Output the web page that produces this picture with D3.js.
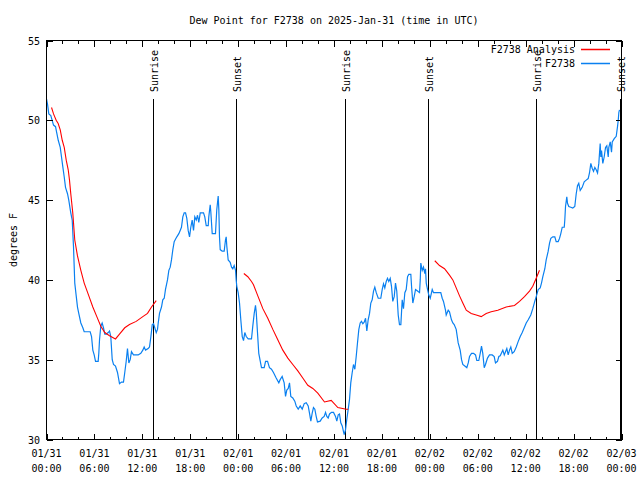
<!DOCTYPE html>
<html>
<head>
<meta charset="utf-8">
<script src="https://cdn.jsdelivr.net/npm/d3@7"></script>
<style>
  html, body { margin: 0; padding: 0; background: #fff; }
  svg { display: block; }
  text { font-family: "DejaVu Sans Mono", "Liberation Mono", monospace; font-size: 10px; fill: #000; }
</style>
</head>
<body>
<svg id="chart" width="640" height="480"></svg>
<script>
// ---------------- data ----------------
const chartTitle = "Dew Point for F2738 on 2025-Jan-31 (time in UTC)";
const yLabel = "degrees F";
const seriesNames = ["F2738 Analysis", "F2738"];
const seriesColors = ["#ff0000", "#0a80f0"];
const startTime = Date.UTC(2025, 0, 31, 0, 0);
const endTime = Date.UTC(2025, 1, 3, 0, 0);
const yTicks = [30, 35, 40, 45, 50, 55];

// hours after 2025-01-31 00:00 UTC
const sunriseHours = [13.3, 37.35, 61.27];
const sunsetHours = [23.7, 47.74, 71.8];

// Analysis (red), three segments separated by null
const anaHours = [
  0.63, 0.88, 1.21, 1.46, 1.72, 1.97, 2.22, 2.47, 2.72, 2.88, 3.04, 3.29, 3.54, 3.88, 4.30, 4.72,
  5.30, 5.80, 6.30, 6.80, 7.30, 7.89, 8.64, 9.14, 9.80, 10.39, 11.23, 12.06, 12.65, 13.15, 13.74,
  null,
  24.71, 25.21, 25.67, 25.92, 26.46, 27.09, 27.71, 28.34, 28.96, 29.59, 30.22, 30.84, 31.47,
  32.09, 32.72, 33.35, 33.97, 34.81, 35.65, 36.48, 37.53, 37.78,
  null,
  48.62, 49.21, 49.84, 50.46, 50.88, 51.30, 51.72, 52.13, 52.56, 53.18, 53.81, 54.43, 55.06,
  55.68, 56.51, 57.56, 58.60, 59.23, 59.85, 60.48, 60.89, 61.32, 61.73
];
const anaValues = [
  50.8, 50.4, 50.0, 49.8, 49.4, 48.75, 48.3, 47.5, 46.9, 46.25, 45.4, 44.2, 42.5, 41.5, 40.6, 39.8,
  39.0, 38.3, 37.7, 37.1, 36.7, 36.5, 36.3, 36.6, 37.0, 37.2, 37.4, 37.7, 37.9, 38.3, 38.7,
  null,
  40.4, 40.2, 39.9, 39.7, 39.0, 38.2, 37.6, 36.9, 36.25, 35.6, 35.1, 34.7, 34.3,
  33.85, 33.4, 33.2, 32.9, 32.35, 32.45, 32.0, 31.9, 31.9,
  null,
  41.2, 40.9, 40.7, 40.3, 40.0, 39.5, 39.0, 38.55, 38.1, 37.9, 37.8, 37.7, 37.9,
  38.0, 38.1, 38.3, 38.4, 38.65, 38.95, 39.3, 39.6, 40.1, 40.6
];

// Observations (blue)
const obsHours = [
  0.00, 0.13, 0.29, 0.54, 0.71, 0.88, 1.13, 1.29, 1.47, 1.72, 1.88, 2.04, 2.22, 2.38, 2.63, 2.79,
  3.04, 3.22, 3.38, 3.47, 3.54, 3.72, 3.88, 4.04, 4.30, 4.55, 4.72, 5.47, 5.64, 5.80, 5.97, 6.14,
  6.47, 6.55, 6.64, 6.80, 6.97, 7.14, 7.30, 7.48, 7.73, 7.89, 8.05, 8.23, 8.39, 8.64, 8.89, 9.14,
  9.39, 9.64, 9.80, 9.98, 10.14, 10.31, 10.48, 10.64, 10.89, 11.48, 11.81, 12.06, 12.23, 12.40,
  12.73, 12.90, 13.06, 13.24, 13.40, 13.56, 13.74, 13.90, 13.99, 14.15, 14.40, 14.56, 14.74, 14.90,
  15.15, 15.32, 15.49, 15.65, 15.82, 15.99, 16.15, 16.32, 16.57, 16.74, 16.90, 17.07, 17.24, 17.41,
  17.57, 17.74, 17.91, 18.07, 18.24, 18.41, 18.57, 18.75, 18.91, 19.07, 19.25, 19.41, 19.66, 19.82,
  20.00, 20.25, 20.32, 20.50, 20.57, 20.75, 21.16, 21.32, 21.50, 21.58, 21.66, 21.75, 22.00, 22.25,
  22.41, 22.50, 22.58, 22.75, 23.00, 23.17, 23.33, 23.50, 23.67, 23.75, 23.83, 24.00, 24.17, 24.33,
  24.51, 24.67, 24.83, 25.01, 25.26, 25.67, 25.83, 26.01, 26.17, 26.26, 26.42, 26.58, 26.92, 27.26,
  27.43, 27.68, 27.92, 28.17, 28.42, 28.76, 29.09, 29.26, 29.51, 29.76, 29.93, 30.09, 30.27, 30.43,
  30.59, 30.84, 31.09, 31.27, 31.52, 31.77, 32.02, 32.27, 32.52, 32.77, 32.93, 33.10, 33.27, 33.43,
  33.60, 33.77, 33.93, 34.27, 34.52, 34.77, 34.94, 35.10, 35.27, 35.44, 35.69, 35.94, 36.19, 36.35,
  36.53, 36.69, 36.85, 37.03, 37.19, 37.28, 37.44, 37.60, 37.78, 37.94, 38.10, 38.28, 38.44, 38.61,
  38.78, 38.94, 39.11, 39.28, 39.44, 39.61, 39.78, 39.95, 40.11, 40.28, 40.45, 40.61, 40.78, 40.95,
  41.11, 41.29, 41.54, 41.86, 42.04, 42.20, 42.36, 42.54, 42.70, 42.86, 43.04, 43.20, 43.36, 43.54,
  43.70, 43.86, 44.04, 44.20, 44.37, 44.54, 44.70, 44.87, 45.04, 45.21, 45.37, 45.62, 45.71, 45.87,
  46.04, 46.21, 46.46, 46.71, 46.80, 46.87, 47.05, 47.21, 47.37, 47.46, 47.55, 47.71, 47.87, 48.05,
  48.21, 48.30, 48.46, 49.37, 49.55, 49.71, 49.96, 50.05, 50.30, 50.46, 50.71, 50.88, 51.05, 51.30,
  51.55, 51.80, 51.97, 52.13, 52.38, 52.63, 52.81, 52.97, 53.22, 53.47, 53.72, 53.88, 54.13, 54.31,
  54.47, 54.63, 54.81, 54.97, 55.22, 55.47, 55.81, 56.06, 56.22, 56.47, 56.64, 56.81, 57.14, 57.32,
  57.48, 57.64, 57.81, 57.98, 58.14, 58.32, 58.56, 58.82, 59.07, 59.32, 59.57, 59.82, 60.07, 60.32,
  60.64, 60.89, 61.14, 61.32, 61.57, 61.82, 61.98, 62.15, 62.40, 62.57, 62.82, 62.99, 63.15, 63.40,
  63.65, 63.82, 64.07, 64.24, 64.40, 64.58, 64.83, 64.90, 64.99, 65.15, 65.24, 65.40, 65.65, 65.90,
  66.15, 66.33, 66.49, 66.65, 66.83, 67.08, 67.33, 67.58, 67.83, 67.99, 68.16, 68.33, 68.50, 68.66,
  68.83, 69.00, 69.16, 69.33, 69.41, 69.50, 69.66, 69.83, 70.00, 70.16, 70.34, 70.41, 70.59, 70.75,
  70.84, 71.09, 71.34, 71.50, 71.59, 71.67, 71.75
];
const obsValues = [
  51.35, 51.0, 50.4, 50.3, 50.0, 49.7, 49.6, 49.2, 48.75, 48.3, 47.7, 47.1, 46.45, 45.8, 45.4, 45.0,
  44.2, 43.75, 42.1, 40.8, 39.8, 39.0, 38.3, 37.9, 37.3, 37.0, 36.75, 36.75, 36.45, 35.6, 35.3, 34.9,
  34.9, 35.4, 36.25, 37.1, 37.3, 37.0, 36.6, 36.6, 36.7, 36.8, 36.45, 35.0, 34.7, 34.6, 34.2, 33.5,
  33.6, 33.6, 34.2, 34.9, 35.7, 34.8, 35.0, 35.5, 35.3, 35.3, 35.4, 35.6, 35.8, 35.6,
  35.7, 35.8, 36.4, 37.2, 37.25, 37.0, 36.7, 36.9, 37.3, 37.9, 38.3, 38.75, 38.85, 39.4,
  40.0, 40.6, 40.8, 41.25, 41.9, 42.4, 42.55, 42.7, 42.9, 43.1, 43.3, 43.95, 44.2, 44.2,
  43.85, 43.1, 42.7, 43.3, 43.75, 43.1, 43.95, 43.75, 44.05, 43.6, 44.2, 44.2, 44.2, 43.95,
  43.4, 43.4, 43.95, 44.7, 44.3, 42.9, 42.9, 44.4, 45.25, 44.4, 42.7, 41.9, 41.8, 41.8,
  42.5, 42.7, 42.1, 41.25, 41.1, 40.8, 40.7, 40.9, 40.6, 40.0, 39.6, 39.2, 38.55, 37.5,
  36.45, 36.2, 36.7, 36.45, 36.3, 36.3, 37.1, 37.9, 38.4, 38.0, 36.7, 35.4, 34.5, 34.5,
  34.9, 34.9, 34.5, 34.4, 34.2, 33.85, 33.55, 33.75, 33.95, 33.55, 32.7, 33.1, 33.2, 33.55,
  32.7, 32.6, 32.4, 32.1, 31.9, 32.1, 31.9, 32.25, 32.3, 32.1, 31.65, 31.15, 31.65, 32.0,
  31.9, 31.45, 31.1, 31.15, 31.35, 31.45, 31.7, 31.45, 31.35, 31.6, 31.7, 31.7, 31.45, 31.15,
  31.55, 31.6, 31.05, 30.85, 30.5, 30.3, 30.6, 31.25, 31.9, 32.5, 33.55, 34.2, 34.7, 34.4,
  35.2, 36.05, 36.9, 37.3, 37.4, 37.25, 37.35, 37.6, 36.8, 37.5, 37.9, 38.55, 38.75, 39.3,
  39.55, 39.2, 38.85, 38.85, 39.4, 39.75, 39.5, 39.9, 40.1, 39.9, 40.1, 39.6, 38.65, 38.95,
  39.8, 39.3, 37.8, 37.2, 37.2, 38.75, 38.2, 39.2, 39.4, 40.2, 40.35, 40.35, 39.6, 38.55,
  38.95, 39.4, 39.3, 39.2, 40.0, 41.05, 40.6, 40.8, 40.4, 40.7, 39.8, 39.4, 39.05, 38.85,
  39.2, 39.4, 39.2, 39.2, 38.85, 38.65, 38.1, 37.8, 38.1, 38.0, 37.5, 37.3, 37.2, 36.9,
  36.05, 35.6, 35.0, 34.7, 34.6, 34.5, 34.8, 35.2, 35.4, 35.4, 35.3, 34.95, 34.95, 35.4,
  35.85, 35.4, 34.5, 34.7, 35.1, 35.3, 35.3, 35.2, 34.8, 34.9, 35.2, 35.25, 35.6, 35.3,
  35.5, 35.7, 35.3, 35.6, 35.8, 35.4, 35.5, 35.8, 36.15, 36.45, 36.7, 37.0, 37.3, 37.5,
  37.8, 38.2, 38.65, 38.95, 39.4, 39.5, 39.8, 40.2, 40.7, 41.25, 41.8, 42.3, 42.6, 42.7,
  42.7, 42.4, 42.4, 42.6, 42.9, 43.3, 43.3, 43.75, 44.6, 45.2, 44.8, 44.6, 44.55, 44.5,
  44.6, 45.4, 45.9, 46.05, 45.6, 45.8, 46.15, 46.25, 46.35, 46.7, 47.3, 47.0, 46.8, 47.05,
  46.9, 46.7, 47.3, 48.55, 47.7, 48.1, 47.3, 47.7, 48.3, 48.4, 47.7, 48.3, 48.65, 48.0,
  48.65, 48.85, 49.0, 49.6, 50.0, 50.5, 50.65
];

// ---------------- drawing ----------------
const HOUR = 3600 * 1000;
const toDate = h => new Date(startTime + h * HOUR);

const svg = d3.select("#chart");
const L = 46.5, R = 621.5, T = 40.5, B = 439.5;

const x = d3.scaleUtc().domain([new Date(startTime), new Date(endTime)]).range([L, R]);
const y = d3.scaleLinear().domain([30, 55]).range([B, T]);

const majorTicks = d3.utcHour.every(6).range(new Date(startTime), new Date(endTime + 1));
const minorTicks = d3.utcHour.every(2).range(new Date(startTime), new Date(endTime + 1));

const red = seriesColors[0];
const blue = seriesColors[1];

// title
svg.append("text").attr("x", (L + R) / 2).attr("y", 23.5)
  .attr("text-anchor", "middle").text(chartTitle);

// y label
svg.append("text").attr("transform", `translate(13.5,${(T + B) / 2}) rotate(-90)`)
  .attr("text-anchor", "middle").attr("dy", "0.35em").text(yLabel);

// clip
svg.append("defs").append("clipPath").attr("id", "plotclip")
  .append("rect").attr("x", L).attr("y", T).attr("width", R - L).attr("height", B - T);

// sunrise / sunset markers
const sunEvents = sunriseHours.map(h => ({ h, label: "Sunrise" }))
  .concat(sunsetHours.map(h => ({ h, label: "Sunset" })));
const sunG = svg.append("g");
sunEvents.forEach(ev => {
  const xp = Math.round(x(toDate(ev.h))) + 0.5;
  sunG.append("line").attr("x1", xp).attr("x2", xp).attr("y1", 98.5).attr("y2", B)
    .attr("stroke", "#000").attr("stroke-width", 1).attr("shape-rendering", "crispEdges");
  sunG.append("text").attr("transform", `translate(${xp + 0.5},92) rotate(-90)`)
    .attr("text-anchor", "start").attr("dy", "0.35em").text(ev.label);
});

// lines
const plotG = svg.append("g").attr("clip-path", "url(#plotclip)");

const anaData = anaHours.map((h, i) => ({ h, v: anaValues[i] }));
const obsData = obsHours.map((h, i) => ({ h, v: obsValues[i] }));

const lineGen = d3.line()
  .defined(d => d.h !== null && d.v !== null)
  .x(d => x(toDate(d.h)))
  .y(d => y(d.v));

plotG.append("path").datum(obsData).attr("d", lineGen)
  .attr("fill", "none").style("stroke", blue).attr("stroke-width", 1.2)
  .attr("stroke-linejoin", "miter");
plotG.append("path").datum(anaData).attr("d", lineGen)
  .attr("fill", "none").style("stroke", red).attr("stroke-width", 1.1);

// border
svg.append("rect").attr("x", L).attr("y", T).attr("width", R - L).attr("height", B - T)
  .attr("fill", "none").attr("stroke", "#000").attr("stroke-width", 1)
  .attr("shape-rendering", "crispEdges");

// ticks using d3 axes (inward)
const fmtDay = d3.utcFormat("%m/%d");
const fmtTime = d3.utcFormat("%H:%M");

function styleAxis(g) {
  g.select(".domain").remove();
  g.selectAll(".tick line").attr("stroke", "#000").attr("shape-rendering", "crispEdges");
  g.attr("font-family", null).attr("font-size", null);
}

const bottomMajor = svg.append("g").attr("transform", `translate(0,${B})`)
  .call(d3.axisBottom(x).tickValues(majorTicks).tickSize(-6).tickFormat(""));
styleAxis(bottomMajor);
const bottomMinor = svg.append("g").attr("transform", `translate(0,${B})`)
  .call(d3.axisBottom(x).tickValues(minorTicks).tickSize(-3).tickFormat(""));
styleAxis(bottomMinor);
const topMajor = svg.append("g").attr("transform", `translate(0,${T})`)
  .call(d3.axisTop(x).tickValues(majorTicks).tickSize(-6).tickFormat(""));
styleAxis(topMajor);
const topMinor = svg.append("g").attr("transform", `translate(0,${T})`)
  .call(d3.axisTop(x).tickValues(minorTicks).tickSize(-3).tickFormat(""));
styleAxis(topMinor);

// bottom labels (two lines)
const xLabels = svg.append("g");
majorTicks.forEach(t => {
  const xp = x(t);
  const txt = xLabels.append("text").attr("x", xp).attr("text-anchor", "middle");
  txt.append("tspan").attr("x", xp).attr("y", 457).text(fmtDay(t));
  txt.append("tspan").attr("x", xp).attr("y", 472).text(fmtTime(t));
});

// y axes
const leftAxis = svg.append("g").attr("transform", `translate(${L},0)`)
  .call(d3.axisLeft(y).tickValues(yTicks).tickSize(-6).tickFormat(d3.format("d")));
styleAxis(leftAxis);
leftAxis.selectAll("text").attr("x", -6.5).attr("dy", "0.35em").attr("fill", "#000");
const rightAxis = svg.append("g").attr("transform", `translate(${R},0)`)
  .call(d3.axisRight(y).tickValues(yTicks).tickSize(-6).tickFormat(""));
styleAxis(rightAxis);

// legend (drawn last, on top)
const legend = svg.append("g").attr("class", "legend");
seriesNames.forEach((name, i) => {
  const yy = 49.5 + i * 14;
  legend.append("text").attr("x", 575).attr("y", yy).attr("dy", "0.35em")
    .attr("text-anchor", "end").text(name);
  legend.append("rect").attr("x", 581).attr("y", yy - 0.75).attr("width", 29).attr("height", 1.5)
    .style("fill", seriesColors[i]).style("stroke", "none");
});
</script>
</body>
</html>
